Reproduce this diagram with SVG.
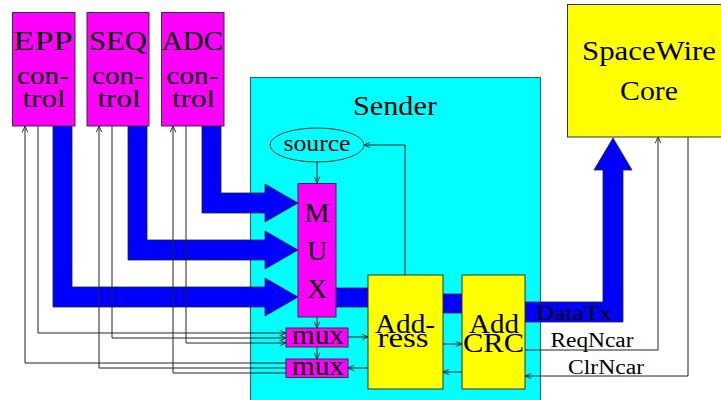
<svg xmlns="http://www.w3.org/2000/svg" width="721" height="400" viewBox="0 0 721 400">
<defs>
<marker id="ah" viewBox="0 0 10 10" refX="10" refY="5" markerWidth="7" markerHeight="7" markerUnits="userSpaceOnUse" orient="auto">
<path d="M1,1 L10,5 L1,9" fill="none" stroke="#222" stroke-width="1.3"/>
</marker>
</defs>
<style>
text{font-family:"Liberation Serif","DejaVu Serif",serif;fill:#000;text-anchor:middle}
.mag{fill:#ff00ff;stroke:#333;stroke-width:1}
.yel{fill:#ffff00;stroke:#333;stroke-width:1}
.band{fill:#0000ff;stroke:#222;stroke-width:0.8}
.ln{fill:none;stroke:#333;stroke-width:1}
.arr{fill:none;stroke:#222;stroke-width:1;marker-end:url(#ah)}
.big{font-size:28px}
.ctl{font-size:25px}
.med{font-size:24px}
.sm{font-size:20px}
</style>
<g id="sender">
<rect x="250.5" y="77.5" width="290" height="330" fill="#00ffff" stroke="#336666" stroke-width="1.2"/>
<text x="395" y="115" class="big" textLength="84" lengthAdjust="spacingAndGlyphs">Sender</text>
</g>
<g id="connectors">
<polygon class="band" points="53,126 72,126 72,287 265,287 265,278 298,297 265,316 265,307 53,307"/>
<polygon class="band" points="128,126 147,126 147,240 265,240 265,231 298,250 265,269 265,260 128,260"/>
<polygon class="band" points="202,126 221,126 221,193 265,193 265,184 298,203 265,222 265,213 202,213"/>
<rect class="band" x="335" y="288" width="34" height="19"/>
<rect class="band" x="442" y="294" width="21" height="19"/>
<polygon class="band" points="524,302 603,302 603,170 594,170 613,138 632,170 623,170 623,322 524,322"/>
<path class="arr" d="M317,162 L317,183"/>
<path class="arr" d="M317,317 L317,328"/>
<path class="arr" d="M317,347 L317,359"/>
<path class="arr" d="M348,337 L368,337"/>
<path class="arr" d="M368,368 L348,368"/>
<path class="arr" d="M443,344 L462,344"/>
<path class="arr" d="M462,372 L443,372"/>
<path class="arr" d="M405,275 L405,145 L364,145"/>
<path class="arr" d="M38,126 L38,333 L286,333"/>
<path class="arr" d="M112,126 L112,338 L286,338"/>
<path class="arr" d="M186,126 L186,343 L286,343"/>
<path class="arr" d="M286,363 L25,363 L25,126"/>
<path class="arr" d="M286,368 L99,368 L99,126"/>
<path class="arr" d="M286,373 L173,373 L173,126"/>
<path class="arr" d="M525,350 L658,350 L658,137"/>
<path class="arr" d="M688,137 L688,376 L525,376"/>
<text x="574" y="320" class="sm" textLength="76" lengthAdjust="spacingAndGlyphs">DataTx</text>
<text x="592" y="347" class="sm" textLength="83" lengthAdjust="spacingAndGlyphs">ReqNcar</text>
<text x="606" y="374" class="sm" textLength="76" lengthAdjust="spacingAndGlyphs">ClrNcar</text>
</g>
<g id="epp">
<rect class="mag" x="12.5" y="12.5" width="62.5" height="113.5"/>
<text x="43" y="50" class="big" textLength="59" lengthAdjust="spacingAndGlyphs">EPP</text>
<text x="43" y="84" class="ctl" textLength="52" lengthAdjust="spacingAndGlyphs">con-</text>
<text x="44" y="107" class="ctl" textLength="43" lengthAdjust="spacingAndGlyphs">trol</text>
</g>
<g id="seq">
<rect class="mag" x="87" y="12.5" width="62" height="113.5"/>
<text x="118" y="50" class="big" textLength="58" lengthAdjust="spacingAndGlyphs">SEQ</text>
<text x="118" y="84" class="ctl" textLength="52" lengthAdjust="spacingAndGlyphs">con-</text>
<text x="119" y="107" class="ctl" textLength="43" lengthAdjust="spacingAndGlyphs">trol</text>
</g>
<g id="adc">
<rect class="mag" x="161.5" y="12.5" width="62.5" height="113.5"/>
<text x="192.5" y="50" class="big" textLength="61" lengthAdjust="spacingAndGlyphs">ADC</text>
<text x="192.5" y="84" class="ctl" textLength="52" lengthAdjust="spacingAndGlyphs">con-</text>
<text x="193.5" y="107" class="ctl" textLength="43" lengthAdjust="spacingAndGlyphs">trol</text>
</g>
<g id="source">
<ellipse cx="317" cy="145" rx="47" ry="17" fill="#00ffff" stroke="#333" stroke-width="1"/>
<text x="317" y="151" class="med" textLength="67" lengthAdjust="spacingAndGlyphs">source</text>
</g>
<g id="mux-main">
<rect class="mag" x="298" y="183.5" width="38" height="133.5"/>
<text x="317" y="222" class="big">M</text>
<text x="317" y="260" class="big">U</text>
<text x="317" y="298" class="big">X</text>
</g>
<g id="mux-in">
<rect class="mag" x="286" y="328" width="62" height="19"/>
<text x="318" y="344" class="big" textLength="52" lengthAdjust="spacingAndGlyphs">mux</text>
</g>
<g id="mux-out">
<rect class="mag" x="286" y="359" width="62" height="18.5"/>
<text x="318" y="374.5" class="big" textLength="52" lengthAdjust="spacingAndGlyphs">mux</text>
</g>
<g id="address">
<rect class="yel" x="368" y="275" width="75" height="114"/>
<text x="405" y="333" class="big" textLength="60" lengthAdjust="spacingAndGlyphs">Add-</text>
<text x="403" y="347" class="big" textLength="51" lengthAdjust="spacingAndGlyphs">ress</text>
</g>
<g id="crc">
<rect class="yel" x="462" y="275" width="63" height="114"/>
<text x="494" y="333" class="big" textLength="50" lengthAdjust="spacingAndGlyphs">Add</text>
<text x="493.5" y="352" class="big" textLength="61" lengthAdjust="spacingAndGlyphs">CRC</text>
</g>
<g id="spacewire">
<rect class="yel" x="567.5" y="4.5" width="155" height="132.5"/>
<text x="649" y="60" class="big" textLength="134" lengthAdjust="spacingAndGlyphs">SpaceWire</text>
<text x="649" y="100" class="big" textLength="58" lengthAdjust="spacingAndGlyphs">Core</text>
</g>
</svg>
